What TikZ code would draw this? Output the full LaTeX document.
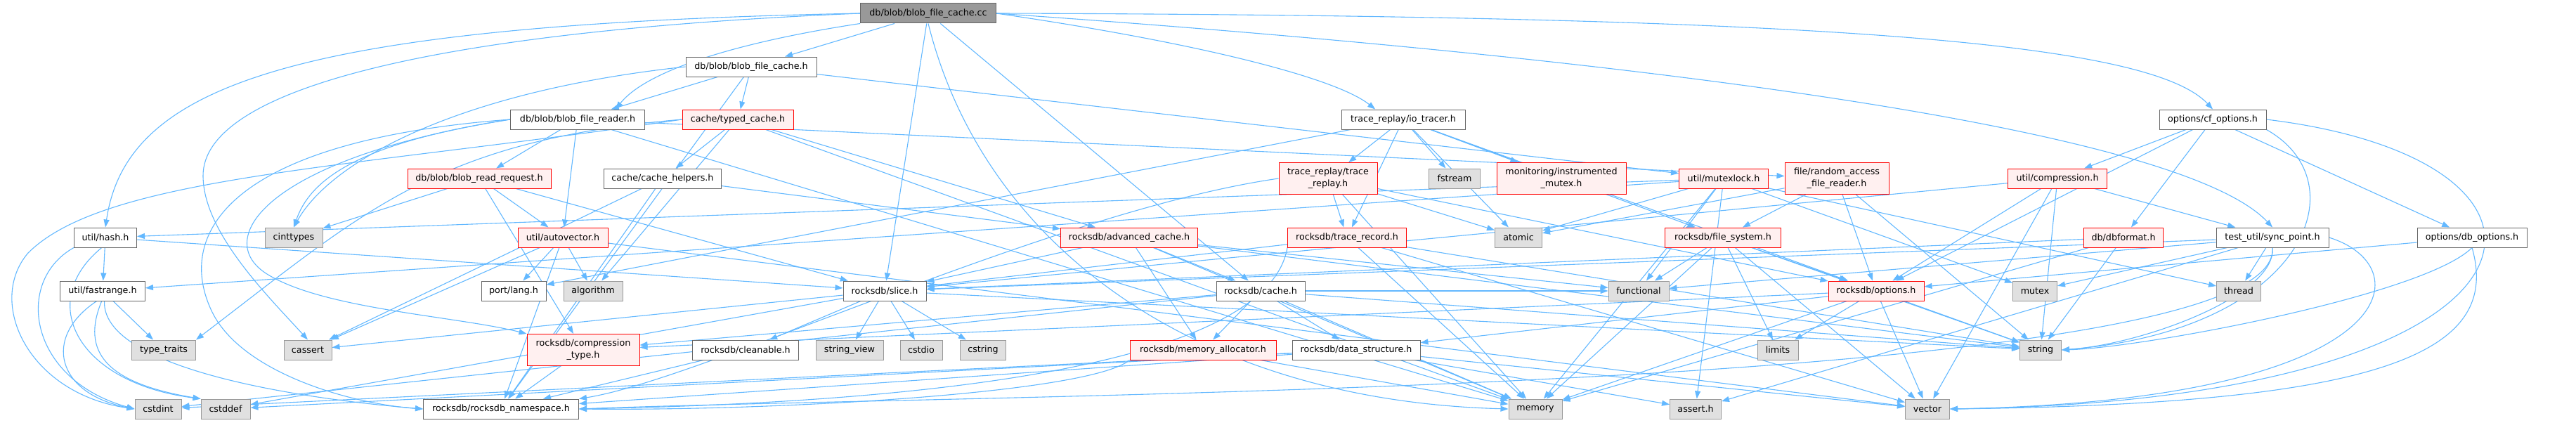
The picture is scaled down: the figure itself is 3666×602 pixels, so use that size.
\documentclass[tikz,border=0pt]{standalone}
\usepackage{fontspec}
\setmainfont{DejaVu Sans}
\usetikzlibrary{arrows.meta}
\definecolor{edgec}{HTML}{63B8FF}
\definecolor{bordc}{HTML}{666666}
\definecolor{rootc}{HTML}{999999}
\definecolor{sysc}{HTML}{E0E0E0}
\definecolor{redfill}{HTML}{FFF0F0}
\pgfdeclarelayer{background}
\pgfsetlayers{background,main}
\begin{document}
\begin{tikzpicture}[x=1pt,y=-1pt,
  box/.style={draw=bordc, fill=white, line width=1pt, minimum height=28pt, inner xsep=0pt, inner ysep=0pt, align=center, font=\fontsize{12.7}{17}\selectfont},
  rootbox/.style={box, fill=rootc},
  sysbox/.style={box, draw=rootc, fill=sysc},
  redbox/.style={box, draw=red, fill=redfill},
  tall/.style={minimum height=45pt},
  dep/.style={draw=edgec, line width=1.1pt, -{Triangle[length=11pt,width=8pt]}}]
\useasboundingbox (0,0) rectangle (3666,602);
% row 0
\node[rootbox, minimum width=193pt] (cc) at (1321,19) {db/blob/blob\_file\_cache.cc};
% row 1
\node[box, minimum width=186pt] (bfch) at (1069,95) {db/blob/blob\_file\_cache.h};
% row 2
\node[box, minimum width=191pt] (bfrh) at (822,170) {db/blob/blob\_file\_reader.h};
\node[redbox, minimum width=158pt] (typed) at (1050,170) {cache/typed\_cache.h};
\node[box, minimum width=176pt] (iotr) at (1997,170) {trace\_replay/io\_tracer.h};
\node[box, minimum width=152pt] (cfopt) at (3149,170) {options/cf\_options.h};
% row 3
\node[redbox, minimum width=204pt] (brr) at (682,254) {db/blob/blob\_read\_request.h};
\node[box, minimum width=167pt] (helpers) at (943,254) {cache/cache\_helpers.h};
\node[redbox, tall, minimum width=140pt] (trrep) at (1890,254) {trace\_replay/trace\\\_replay.h};
\node[sysbox, minimum width=73pt] (fstream) at (2070,254) {fstream};
\node[redbox, tall, minimum width=184pt] (imutex) at (2222,254) {monitoring/instrumented\\\_mutex.h};
\node[redbox, minimum width=127pt] (mutexlock) at (2453,254) {util/mutexlock.h};
\node[redbox, tall, minimum width=148pt] (rafr) at (2614,254) {file/random\_access\\\_file\_reader.h};
\node[redbox, minimum width=141pt] (compr) at (2928,254) {util/compression.h};
% row 4
\node[box, minimum width=89pt] (hash) at (150,338) {util/hash.h};
\node[sysbox, minimum width=82pt] (cinttypes) at (418,338) {cinttypes};
\node[redbox, minimum width=128pt] (autovec) at (801,338) {util/autovector.h};
\node[redbox, minimum width=195pt] (advcache) at (1607,338) {rocksdb/advanced\_cache.h};
\node[redbox, minimum width=169pt] (trrec) at (1917,338) {rocksdb/trace\_record.h};
\node[sysbox, minimum width=67pt] (atomic) at (2161,338) {atomic};
\node[redbox, minimum width=165pt] (fs) at (2452,338) {rocksdb/file\_system.h};
\node[redbox, minimum width=113pt] (dbformat) at (3022,338) {db/dbformat.h};
\node[box, minimum width=160pt] (syncpt) at (3234,338) {test\_util/sync\_point.h};
\node[box, minimum width=156pt] (dbopt) at (3518,338) {options/db\_options.h};
% row 5
\node[box, minimum width=121pt] (fastrange) at (146,414) {util/fastrange.h};
\node[box, minimum width=92pt] (portlang) at (731,414) {port/lang.h};
\node[sysbox, minimum width=84pt] (algorithm) at (844,414) {algorithm};
\node[box, minimum width=118pt] (slice) at (1259,414) {rocksdb/slice.h};
\node[box, minimum width=126pt] (cache) at (1794,414) {rocksdb/cache.h};
\node[sysbox, minimum width=86pt] (functional) at (2332,414) {functional};
\node[redbox, minimum width=136pt] (options) at (2670,414) {rocksdb/options.h};
\node[sysbox, minimum width=63pt] (mutex) at (2896,414) {mutex};
\node[sysbox, minimum width=63pt] (thread) at (3186,414) {thread};
% row 6
\node[sysbox, minimum width=91pt] (typetraits) at (233,498) {type\_traits};
\node[sysbox, minimum width=68pt] (cassert) at (438,498) {cassert};
\node[redbox, tall, minimum width=160pt] (ctype) at (830,498) {rocksdb/compression\\\_type.h};
\node[box, minimum width=151pt] (cleanable) at (1061,498) {rocksdb/cleanable.h};
\node[sysbox, minimum width=96pt] (stringview) at (1209,498) {string\_view};
\node[sysbox, minimum width=60pt] (cstdio) at (1311,498) {cstdio};
\node[sysbox, minimum width=65pt] (cstring) at (1399,498) {cstring};
\node[redbox, minimum width=208pt] (memalloc) at (1712,498) {rocksdb/memory\_allocator.h};
\node[box, minimum width=182pt] (datastruct) at (1930,498) {rocksdb/data\_structure.h};
\node[sysbox, minimum width=58pt] (limits) at (2530,498) {limits};
\node[sysbox, minimum width=59pt] (string) at (2904,498) {string};
% row 7
\node[sysbox, minimum width=66pt] (cstdint) at (225,582) {cstdint};
\node[sysbox, minimum width=70pt] (cstddef) at (321,582) {cstddef};
\node[box, minimum width=221pt] (namespace) at (713,582) {rocksdb/rocksdb\_namespace.h};
\node[sysbox, minimum width=76pt] (memory) at (2185,582) {memory};
\node[sysbox, minimum width=73pt] (asserth) at (2413,582) {assert.h};
\node[sysbox, minimum width=63pt] (vector) at (2743,582) {vector};

\begin{pgfonlayer}{background}
% curved long edges
\draw[dep] (cc.west) .. controls (420,35) and (180,120) .. (hash.north);
\draw[dep] (cc.west) .. controls (600,45) and (289,130) .. (289,250) .. controls (289,330) and (380,420) .. (cassert.north);
\draw[dep] (cc.south west) .. controls (1050,60) and (920,100) .. (bfrh.15);
\draw[dep] (cc.east) .. controls (2600,22) and (3060,60) .. (cfopt.north);
\draw[dep] (cc.east) .. controls (2300,80) and (3100,180) .. (syncpt.north);
\draw[dep] (cc.south) .. controls (1400,350) and (1700,570) .. (memory.west);
\draw[dep] (cc.east) .. controls (1700,60) and (1900,110) .. (iotr.160);
\draw[dep] (cfopt.east) .. controls (3720,230) and (3660,570) .. (vector.east);
\draw[dep] (syncpt.east) .. controls (3450,380) and (3420,570) .. (vector.east);
\draw[dep] (dbopt.south) .. controls (3560,500) and (3400,575) .. (vector.east);
\draw[dep] (cfopt.south east) .. controls (3360,260) and (3280,470) .. (string.east);
\draw[dep] (syncpt.south) .. controls (3240,420) and (3050,490) .. (string.east);
\draw[dep] (dbopt.south) .. controls (3450,420) and (3050,495) .. (string.east);
\draw[dep] (syncpt.south) .. controls (3250,560) and (1400,560) .. (namespace.east);
\draw[dep] (trrec.south west) .. controls (1800,540) and (1200,575) .. (namespace.east);
\draw[dep] (memalloc.south west) .. controls (1550,560) and (1100,585) .. (namespace.east);
\draw[dep] (trrep.west) .. controls (1500,300) and (1000,540) .. (namespace.north east);
% left-hand curves
\draw[dep] (bfrh.west) .. controls (330,200) and (250,330) .. (300,440) .. controls (340,530) and (500,575) .. (namespace.west);
\draw[dep] (bfrh.west) .. controls (380,225) and (300,340) .. (380,390) .. controls (460,440) and (650,450) .. (ctype.north west);
\draw[dep] (bfrh.west) .. controls (500,205) and (440,260) .. (cinttypes.north);
\draw[dep] (bfch.west) .. controls (650,130) and (470,230) .. (cinttypes.north);
\draw[dep] (typed.west) .. controls (620,200) and (520,300) .. (typetraits.north east);
\draw[dep] (typed.west) .. controls (500,240) and (150,250) .. (40,360) .. controls (-20,430) and (40,560) .. (cstdint.west);
\draw[dep] (hash.south west) .. controls (20,400) and (40,540) .. (cstdint.west);
\draw[dep] (hash.250) .. controls (50,430) and (110,545) .. (cstddef.north west);
\draw[dep] (fastrange.240) .. controls (60,480) and (80,560) .. (cstdint.west);
\draw[dep] (fastrange.265) .. controls (115,500) and (150,545) .. (cstddef.north west);
\draw[dep] (fastrange.280) .. controls (145,520) and (400,565) .. (namespace.west);
% straight edges
\foreach \a/\b in {cc/bfch, cc/slice, cc/cache,
  bfch/typed, bfch/bfrh, bfch/namespace, bfch/mutexlock,
  bfrh/memory, bfrh/brr, bfrh/rafr, bfrh/autovec,
  typed/helpers, typed/advcache, typed/algorithm, typed/memory,
  helpers/cassert, helpers/advcache, helpers/namespace,
  brr/cinttypes, brr/ctype, brr/slice, brr/autovec,
  autovec/algorithm, autovec/cassert, autovec/portlang, autovec/namespace, autovec/vector,
  iotr/atomic, iotr/fstream, iotr/imutex, iotr/portlang, iotr/fs, iotr/options, iotr/trrec, iotr/trrep,
  trrep/atomic, trrep/memory, trrep/options, trrep/trrec,
  mutexlock/asserth, mutexlock/atomic, mutexlock/functional, mutexlock/memory, mutexlock/mutex, mutexlock/thread, mutexlock/fastrange, mutexlock/hash,
  rafr/atomic, rafr/fs, rafr/options, rafr/string,
  compr/slice, compr/options, compr/string, compr/syncpt, compr/vector,
  cfopt/dbformat, cfopt/dbopt, cfopt/options, cfopt/compr,
  dbformat/slice, dbformat/string, dbformat/memory,
  syncpt/asserth, syncpt/functional, syncpt/mutex, syncpt/thread, syncpt/slice,
  dbopt/options,
  options/limits, options/memory, options/string, options/vector, options/ctype, options/datastruct,
  fs/functional, fs/limits, fs/memory, fs/options, fs/string, fs/vector,
  trrec/memory, trrec/string, trrec/vector, trrec/slice,
  advcache/cache, advcache/memalloc, advcache/slice, advcache/functional, advcache/memory, advcache/string,
  cache/cstdint, cache/functional, cache/memory, cache/string, cache/ctype, cache/datastruct, cache/memalloc,
  memalloc/memory,
  datastruct/asserth, datastruct/cstddef, datastruct/cstdint, datastruct/vector, datastruct/namespace,
  ctype/namespace,
  hash/fastrange, hash/slice,
  fastrange/typetraits,
  slice/cassert, slice/cstddef, slice/cstdio, slice/cstring, slice/string, slice/stringview, slice/cleanable,
  cleanable/namespace}
  \draw[dep] (\a) -- (\b);
\end{pgfonlayer}
\end{tikzpicture}
\end{document}
